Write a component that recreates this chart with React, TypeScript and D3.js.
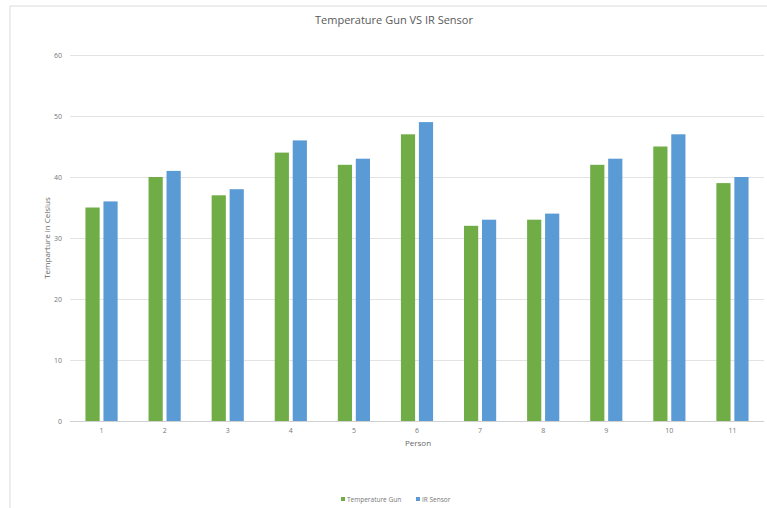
import React from "react";
import * as d3 from "d3";

const categories = ["1", "2", "3", "4", "5", "6", "7", "8", "9", "10", "11"];
const tempGun = [35, 40, 37, 44, 42, 47, 32, 33, 42, 45, 39];
const irSensor = [36, 41, 38, 46, 43, 49, 33, 34, 43, 47, 40];
const yTicks = [0, 10, 20, 30, 40, 50, 60];
const seriesNames = ["Temperature Gun", "IR Sensor"];
const colors = ["#70AD47", "#5B9BD5"];

export default function App() {
  const W = 767, H = 508;
  const left = 70, right = 764, top = 55, bottom = 421;
  const x = d3.scaleBand<string>().domain(categories).range([left, right]);
  const y = d3.scaleLinear().domain([0, 60]).range([bottom, top]);
  const bw = x.bandwidth();
  const barW = bw * 0.225;
  const gap = bw * 0.06;
  const font = "'Open Sans', 'Liberation Sans', sans-serif";
  const series = [tempGun, irSensor];
  return (
    <svg width={W} height={H} style={{ position: "absolute", left: 0, top: 0 }}>
      <rect x={0} y={0} width={W} height={H} fill="#fff" />
      <rect x={10} y={6} width={W} height={H} fill="#fff" stroke="#dcdcdc" strokeWidth={1} />
      <text x={394} y={24} textAnchor="middle" fontFamily={font} fontSize={11} fill="#595959">
        Temperature Gun VS IR Sensor
      </text>
      {yTicks.map((t) => (
        <g key={t}>
          <line x1={left} x2={right} y1={y(t) + 0.5} y2={y(t) + 0.5} stroke={t === 0 ? "#d0d0d0" : "#e3e3e3"} strokeWidth={1} />
          <text x={62} y={y(t) + 2.5} textAnchor="end" fontFamily={font} fontSize={7} fill="#777">
            {t}
          </text>
        </g>
      ))}
      {categories.map((c, i) => {
        const cx = (x(c) as number) + bw / 2;
        return (
          <g key={c}>
            {series.map((s, k) => {
              const bx = k === 0 ? cx - gap / 2 - barW : cx + gap / 2;
              return (
                <rect key={k} x={bx} y={y(s[i])} width={barW} height={y(0) - y(s[i])} fill={colors[k]} />
              );
            })}
            <text x={cx} y={433} textAnchor="middle" fontFamily={font} fontSize={7} fill="#777">
              {c}
            </text>
          </g>
        );
      })}
      <text x={418} y={446} textAnchor="middle" fontFamily={font} fontSize={8} fill="#666">
        Person
      </text>
      <text
        transform={`translate(50,${(top + bottom) / 2}) rotate(-90)`}
        textAnchor="middle"
        fontFamily={font}
        fontSize={8}
        fill="#666"
      >
        Temparture in Celsius
      </text>
      {seriesNames.map((n, k) => {
        const lx = k === 0 ? 341 : 416;
        return (
          <g key={n}>
            <rect x={lx} y={497} width={4} height={4} fill={colors[k]} />
            <text x={lx + 6} y={502} fontFamily={font} fontSize={6.5} fill="#777">
              {n}
            </text>
          </g>
        );
      })}
    </svg>
  );
}
